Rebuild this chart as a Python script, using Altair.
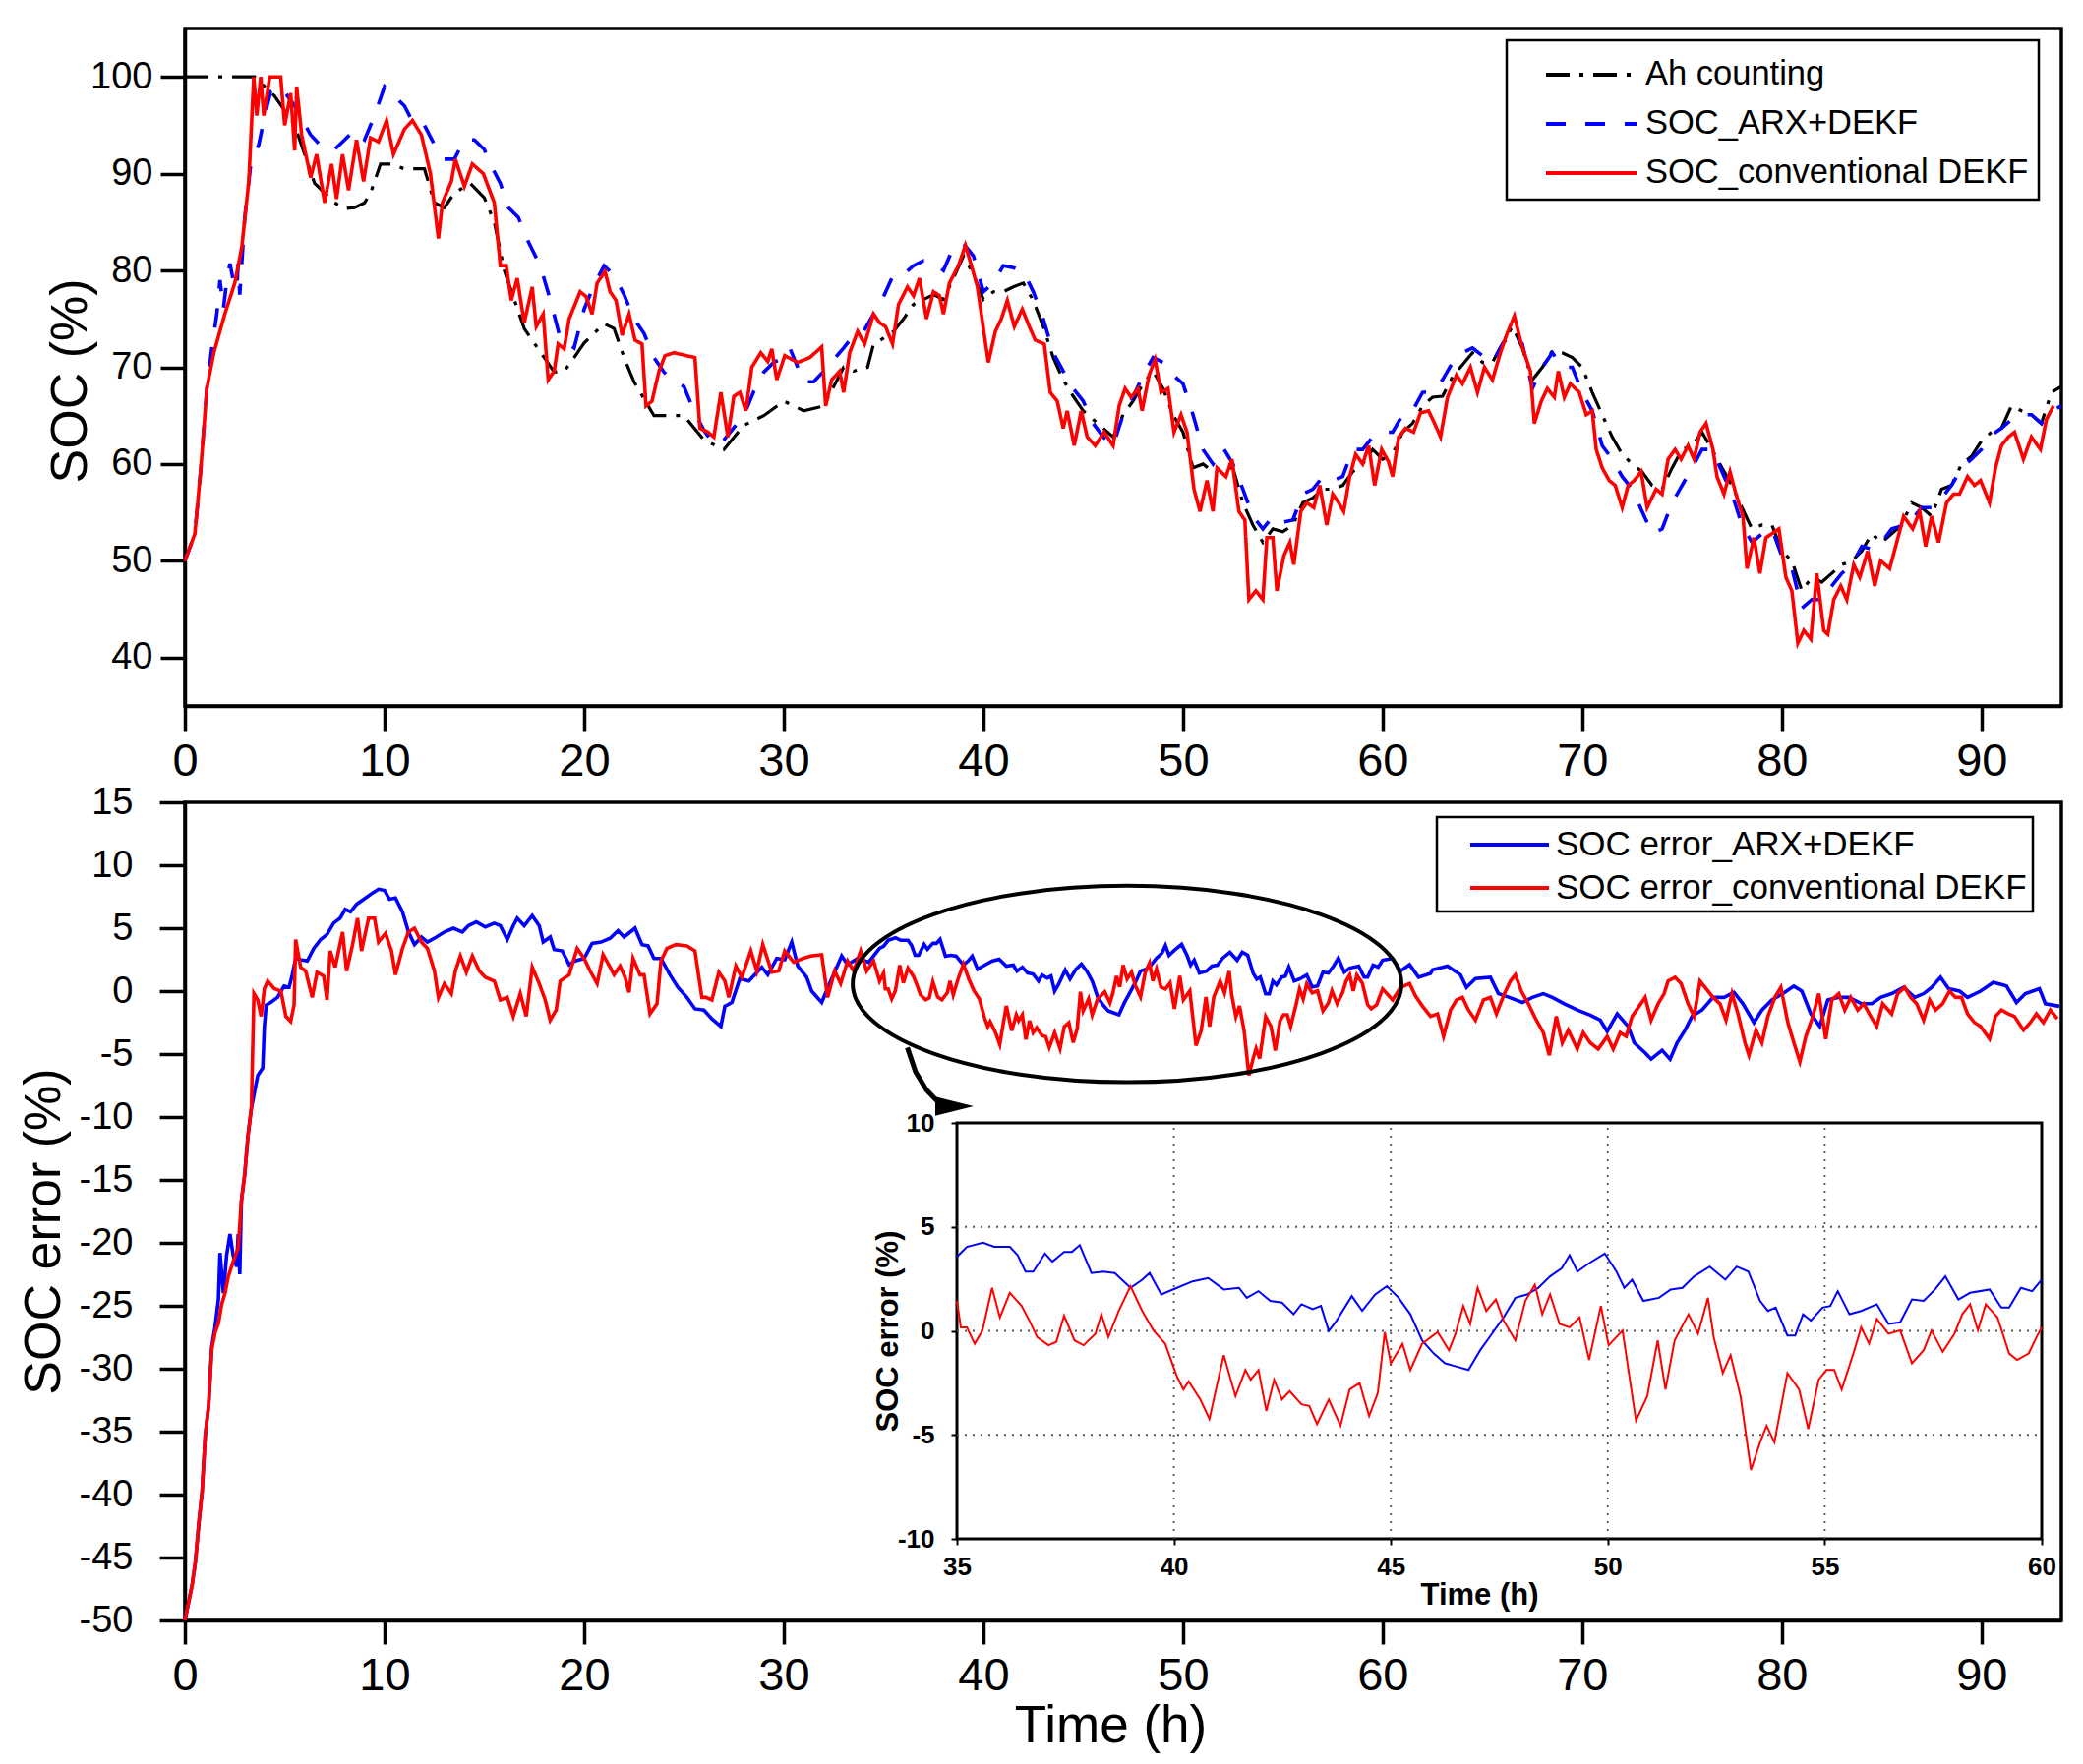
import altair as alt
import pandas as pd

# ---------------- top panel: SOC (%) ----------------
ah_pts = [(0,100),(3.5,100),(4.5,98),(5.5,95),(6.5,89),(7.5,87),(8.0,86.4),(8.5,86.5),(9.0,87),(9.3,88),(9.8,91),
          (10.3,91),(11.0,90.5),(12.0,90.5),(12.5,87),(13.0,86.5),(13.5,88),(14.3,89),(15.0,87.5),(15.5,85),(16.0,80),
          (17.0,74),(18.0,71),(18.5,69.5),(19.0,69.6),(19.5,71),(20.0,72.5),(21.0,74.5),(21.5,74),(22.0,71),(22.5,68.5),
          (23.5,65),(25.0,65),(26.0,62.5),(26.5,62),(27.0,61.5),(28.0,64),(29.0,65),(30.0,66.5),(31.0,65.5),(32.0,66),
          (32.5,68),(33.0,70),(33.5,69.6),(34.2,70),(34.5,72.4),(35.0,73),(35.5,73.7),(36.0,75),(36.5,76.5),(37.0,77),
          (37.5,77.5),(38.0,77),(38.5,79.2),(39.0,81.5),(39.5,79.6),(40.0,77),(40.5,77.8),(41.0,77.8),(41.5,78.3),
          (42.0,78.7),(42.5,76.9),(43.0,74.2),(43.5,71),(44.0,68.7),(44.5,67),(45.0,65.5),(45.5,64.6),(46.0,63.7),
          (46.5,62.8),(47.0,65.1),(47.5,66.5),(48.0,68.3),(48.5,69.6),(49.0,67.8),(49.5,65.1),(50.0,63.3),(50.5,59.6),
          (51.0,60),(51.5,59.2),(52.0,59.6),(52.5,59.6),(53.0,56),(53.5,53.7),(54.0,51.9),(54.5,53.3),(55.0,53),
          (55.5,53.7),(56.0,56),(56.5,56.5),(57.0,57.4),(57.5,57.4),(58.0,57.8),(58.5,59.2),(59.0,60),(59.5,61.5),
          (60.0,60.5),(60.5,61),(61.0,63.3),(61.5,64.2),(62.0,66),(62.5,66.9),(63.0,67),(63.5,69),(64.5,71.5),(65.0,70.5),
          (65.5,70.5),(66.0,72.4),(66.5,74.2),(67.0,72),(67.5,68.7),(68.0,70),(68.5,71.7),(69.0,71.5),(69.5,71),(70.0,70),
          (70.5,67.4),(71.0,65.1),(71.5,62.8),(72.0,61),(72.5,60),(73.0,59.2),(73.5,57.8),(74.0,57.4),(74.5,59.6),
          (75.0,61.5),(75.5,61.9),(76.0,63.3),(76.5,61.5),(77.0,59.6),(77.5,57.8),(78.0,55.5),(78.5,53.3),(79.0,53.7),
          (79.5,53.7),(80.0,51),(80.5,50),(81.0,46.9),(81.5,48.3),(82.0,47.8),(82.5,48.7),(83.0,49.6),(83.5,50),(84.0,51),
          (84.5,52.8),(85.0,51.9),(85.5,52.8),(86.0,53.7),(86.5,56),(87.0,55.5),(87.5,54.6),(88.0,57.4),(88.5,57.8),
          (89.0,60),(89.5,60.8),(90.0,62.4),(90.5,63.3),(91.0,63.7),(91.5,66),(92.0,65.5),(92.5,65.1),(93.0,64.2),
          (93.5,67.4),(94.0,68)]

arx_pts = [(0,50),(0.5,52.8),(0.8,59.6),(1.1,67.8),(1.35,72),(1.6,75.5),(1.76,79),(1.93,76),(2.1,79),(2.26,80.7),
           (2.42,79),(2.6,78.1),(2.67,80.7),(2.75,77.5),(3.0,85.5),(3.3,91),(3.5,92),(3.7,93),(4.0,96),(4.3,98.5),
           (4.8,99),(5.5,97),(6.3,94),(7.0,92.5),(7.5,92.5),(8.0,93.5),(8.5,94.5),(9.0,93.5),(9.5,96),(10.0,99),(10.5,98),
           (11.0,97),(11.5,95),(12.0,95),(12.5,93),(13.0,91.5),(13.5,91.5),(14.0,93.5),(14.5,93.5),(15.0,92.5),(15.3,91),
           (15.8,89),(16.2,86.5),(16.7,85.5),(17.2,83),(17.8,80.5),(18.3,77),(18.8,73),(19.5,72),(20.0,76),(20.5,78.5),
           (21.0,80.5),(21.5,79.5),(22.0,77.5),(22.5,75),(23.0,73.5),(23.5,71),(24.0,69.5),(24.5,68.5),(25.0,68),
           (25.5,65.5),(26.0,63.5),(26.5,62),(27.0,62.5),(28.0,65),(28.5,67.5),(29.0,69.5),(29.5,70.5),(30.0,71),
           (30.3,72),(31.0,68.5),(31.5,68.5),(32.0,69.6),(33.0,72),(33.5,73.3),(34.0,73.7),(34.5,75.5),(35.0,77.3),
           (35.5,79.6),(36.0,79.6),(36.5,80.5),(37.0,81),(37.5,80.8),(38.0,80),(38.5,82.4),(39.0,82.8),(39.5,81.5),
           (40.0,77.8),(40.5,78.7),(41.0,80.5),(41.5,80.3),(42.0,79.9),(42.5,77.8),(43.0,75),(43.5,71.5),(44.0,69.6),
           (44.5,67.8),(45.0,66.5),(45.5,64.2),(46.0,62.8),(46.5,61.9),(47.0,65.1),(47.5,66.9),(48.0,69.2),(48.5,71),
           (49.0,70.5),(49.5,69.2),(50.0,68.3),(50.5,65.1),(51.0,61.5),(51.5,60),(52.0,61.7),(52.5,60),(53.0,57.4),
           (53.5,54.6),(54.0,53.3),(54.5,54.6),(55.0,54),(55.5,54.2),(56.0,56.9),(56.5,57.4),(57.0,58.7),(57.5,58.3),
           (58.0,58.7),(58.5,61.5),(59.0,61.5),(59.5,62.8),(60.0,63.3),(60.5,63.3),(61.0,65.1),(61.5,65.5),(62.0,67.4),
           (62.5,67.5),(63.0,68.7),(63.5,70.5),(64.0,71.5),(64.5,72),(65.0,71.2),(65.5,70.5),(66.0,72.4),(66.5,73.7),
           (67.0,72.4),(67.5,67.8),(68.0,70),(68.5,71.5),(69.0,70),(69.5,70),(70.0,67.4),(70.5,65.5),(71.0,61.9),
           (71.5,60.5),(72.0,58.7),(72.5,57.4),(73.0,55.1),(73.5,52.8),(74.0,53.3),(74.5,56),(75.0,57.8),(75.5,59.6),
           (76.0,61.5),(76.5,61.5),(77.0,59.2),(77.5,56.9),(78.0,53.7),(78.5,51.9),(79.0,52.8),(79.5,53.3),(80.0,50.5),
           (80.5,49.2),(81.0,45.1),(81.5,46),(82.0,46),(82.5,47.4),(83.0,48.7),(83.5,49.6),(84.0,51.5),(84.5,51.2),
           (85.0,51.9),(85.5,53.3),(86.0,53.6),(86.5,54.2),(87.0,55.5),(87.5,55.5),(88.0,56.5),(88.5,57.8),(89.0,59.6),
           (89.5,60.5),(90.0,61.5),(90.5,63),(91.0,63.7),(91.5,64.6),(92.0,65.1),(92.5,65.1),(93.0,64.2),(93.5,65.5),
           (94.0,66)]

conv_pts = [(0,50),(0.5,52.8),(0.8,59.6),(1.1,67.8),(1.45,71.5),(2.0,75.5),(2.5,78.7),(2.85,82.4),(3.2,89.2),
            (3.45,100),(3.6,96),(3.8,100),(3.95,96),(4.25,100),(4.8,100),(5.0,95),(5.3,98.3),(5.5,92.4),(5.6,99),
            (5.85,94),(6.3,89.6),(6.6,92),(7.0,87),(7.35,91),(7.6,87.4),(7.9,92),(8.2,88.3),(8.6,93.5),(8.95,89.2),
            (9.3,93.7),(9.7,93.3),(10.1,95.5),(10.45,92),(11.0,94.6),(11.4,95.5),(11.85,94),(12.3,90),(12.7,83.3),
            (12.9,87),(13.35,89.2),(13.55,91.5),(14.0,88.7),(14.4,91),(14.95,90),(15.5,87),(15.8,80.5),(16.1,80.5),
            (16.35,76.9),(16.65,79.2),(17.0,74.6),(17.4,78.3),(17.6,74.2),(17.95,75.5),(18.2,68.7),(18.5,69.6),
            (18.7,72.4),(19.0,71.9),(19.25,75),(19.8,77.8),(20.1,77.3),(20.4,75.5),(20.65,78.7),(21.05,79.9),(21.3,77.8),
            (21.6,76.9),(21.9,73.3),(22.25,75.5),(22.55,72.8),(22.9,72.4),(23.1,66),(23.4,66.5),(23.75,69.6),(24.05,71.2),
            (24.5,71.5),(25.55,71),(25.8,63.7),(26.2,63.3),(26.5,62.8),(26.85,67.4),(27.2,62.8),(27.5,67),(27.8,67.4),
            (28.1,65.5),(28.4,70),(28.85,71.5),(29.2,70.6),(29.4,71.9),(29.65,68.7),(30.05,71.2),(30.7,70.5),(31.3,71),
            (31.9,72.1),(32.1,66),(32.4,68.7),(32.8,69.6),(33.0,67.4),(33.3,71.5),(33.7,73.7),(34.05,72.4),(34.5,75.5),
            (34.8,74.6),(35.1,74.2),(35.45,72.4),(35.75,76.5),(36.2,78.3),(36.5,77.4),(36.8,79.2),(37.15,75),(37.5,77.8),
            (37.8,77.4),(38.0,75.5),(38.3,78.7),(38.75,80.5),(39.1,82.6),(39.4,80.5),(39.7,78.3),(40.05,73.3),(40.25,70.5),
            (40.6,73.7),(40.9,75),(41.2,76.9),(41.55,74.2),(41.95,76),(42.3,74.2),(42.6,72.8),(43.05,72.4),(43.35,67.4),
            (43.7,66.5),(44.0,63.7),(44.2,65.5),(44.55,61.9),(44.9,65.5),(45.2,62.8),(45.6,61.9),(46.05,63.3),(46.5,61.9),
            (46.8,66),(47.1,67.8),(47.4,66.9),(47.75,67.8),(47.95,65.5),(48.3,69.2),(48.6,70.8),(48.9,67.4),(49.25,67.8),
            (49.55,63.3),(49.9,65.1),(50.2,63.3),(50.55,57.4),(50.85,55.1),(51.2,58.3),(51.5,55.1),(51.7,59.6),
            (52.15,58.7),(52.45,60.5),(52.8,55.1),(53.1,54.2),(53.3,46),(53.65,46.9),(54.0,46),(54.2,52.4),(54.5,52.4),
            (54.7,46.9),(55.05,50.5),(55.35,51.9),(55.55,49.6),(55.9,55.1),(56.2,56),(56.55,55.5),(56.85,57.8),(57.2,53.7),
            (57.5,56.9),(57.8,56),(58.05,55.1),(58.35,58.7),(58.65,61),(59.0,60),(59.3,61.9),(59.6,57.8),(59.95,61.5),
            (60.3,60.2),(60.5,58.7),(60.8,62.8),(61.15,63.7),(61.55,63.3),(61.9,65.3),(62.3,65.5),(62.6,64.2),(62.9,62.8),
            (63.25,66.9),(63.7,69.2),(64.0,68.3),(64.4,70),(64.75,67.4),(65.1,70),(65.5,68.7),(65.9,71.5),(66.2,73.3),
            (66.6,75.3),(66.95,72.4),(67.4,69.6),(67.6,64.2),(67.95,66.5),(68.25,67.8),(68.6,66.9),(68.8,69.6),(69.1,66.9),
            (69.4,68.3),(69.85,67.4),(70.2,65.1),(70.5,65.5),(70.7,61.5),(71.0,59.6),(71.35,58.3),(71.65,57.8),(72.0,55.5),
            (72.3,57.8),(72.6,58.3),(72.95,59.2),(73.25,55.5),(73.7,57.4),(74.0,56.9),(74.3,60.5),(74.65,61.5),
            (74.95,60.5),(75.3,61.9),(75.6,60.5),(75.9,63.3),(76.2,64.2),(76.55,61.5),(76.75,58.7),(77.1,56.9),(77.4,59.2),
            (77.7,56.9),(78.05,54.6),(78.25,49.2),(78.6,52.4),(78.9,48.7),(79.2,52.4),(79.5,52.8),(79.85,53.3),(80.2,48.3),
            (80.5,46.9),(80.8,41.5),(81.1,42.8),(81.45,41.9),(81.75,48.7),(82.1,42.8),(82.3,42.4),(82.6,46),(82.95,47.4),
            (83.25,46),(83.6,49.6),(83.9,48.3),(84.3,51),(84.65,47.4),(84.95,50),(85.4,49.2),(85.7,51.5),(86.1,54.6),
            (86.55,53.3),(86.9,55.1),(87.2,51.5),(87.5,54.6),(87.85,51.9),(88.25,56),(88.6,56.9),(88.9,56.9),(89.3,58.7),
            (89.65,57.8),(89.95,58.3),(90.4,56),(90.7,59.6),(91.0,61.9),(91.35,62.8),(91.65,63.3),(92.1,60.5),(92.5,62.8),
            (92.95,61.5),(93.25,64.6),(93.6,66)]

# ---------------- bottom panel: SOC error (%) ----------------
err_arx_pts = [(0,-50),(0.36,-47.2),(0.53,-45.3),(0.69,-42.4),(0.86,-39.8),(1.02,-35.3),(1.19,-32.9),(1.35,-28.2),
               (1.5,-26.8),(1.68,-24.5),(1.76,-20.8),(1.93,-24),(2.09,-21),(2.26,-19.3),(2.42,-21),(2.59,-21.9),
               (2.67,-19.3),(2.75,-22.5),(2.83,-16.7),(3.0,-14.5),(3.16,-11.5),(3.33,-9.3),(3.49,-8),(3.65,-6.7),
               (3.9,-6.1),(3.98,-2.8),(4.07,-1.1),(4.3,-0.9),(4.64,-0.5),(4.97,0.4),(5.22,0.3),(5.38,1.3),(5.55,2.6),
               (5.8,2.5),(6.13,2.4),(6.46,3.4),(6.8,4.1),(7.12,4.5),(7.45,5.4),(7.78,5.8),(8.03,6.5),(8.3,6.3),(8.6,6.9),
               (9.05,7.4),(9.4,7.8),(9.7,8.1),(10.0,8),(10.25,7.3),(10.55,7.4),(10.9,6.3),(11.2,4.7),(11.5,3.7),
               (11.85,4.3),(12.15,3.9),(12.6,4.3),(13.0,4.7),(13.45,5),(13.9,4.7),(14.2,5.2),(14.6,5.5),(15.05,5.1),
               (15.5,5.4),(15.8,5.2),(16.15,4.1),(16.45,5.2),(16.65,5.8),(17.0,5.2),(17.4,6),(17.75,5.2),(17.95,3.9),
               (18.3,4.3),(18.5,3.3),(18.9,3.2),(19.25,2.1),(19.55,2.4),(20.0,2.6),(20.4,3.8),(20.85,3.9),(21.3,4.2),
               (21.7,4.8),(22.0,4.3),(22.55,5),(22.9,3.7),(23.2,3.6),(23.5,2.6),(23.85,2.6),(24.3,1.3),(24.7,0.3),
               (25.15,-0.5),(25.55,-1.4),(26.0,-1.5),(26.4,-2.2),(26.85,-2.8),(27.05,-1.2),(27.4,-0.9),(27.8,1),
               (28.25,0.8),(28.55,1.3),(28.9,1.9),(29.2,1.3),(29.65,2.6),(30.05,2.5),(30.4,3.9),(30.7,2.0),(31.15,1.1),
               (31.4,0),(31.9,-0.9),(32.35,0.8),(32.9,2.8),(33.2,2.1),(33.7,2.6),(34.25,2.3),(34.8,3.4),
               (35,3.56),(35.23,4.04),(35.6,4.24),(35.86,4.04),(36.22,4.04),(36.4,3.64),(36.58,2.85),(36.76,2.85),
               (37.03,3.72),(37.2,3.33),(37.47,3.8),(37.65,3.8),(37.83,4.12),(38.1,2.78),(38.37,2.85),(38.64,2.78),
               (39.0,2.07),(39.27,2.46),(39.44,2.78),(39.71,1.75),(40.07,2.07),(40.43,2.38),(40.79,2.54),(41.15,1.99),
               (41.5,2.07),(41.68,1.59),(41.95,1.91),(42.22,1.44),(42.49,1.36),(42.76,0.8),(42.94,1.28),(43.2,1.04),
               (43.39,1.2),(43.57,0.0),(43.75,0.49),(44.1,1.67),(44.34,0.96),(44.64,1.75),(44.91,2.15),(45.18,1.59),
               (45.45,0.8),(45.72,-0.46),(45.99,-1.09),(46.25,-1.56),(46.52,-1.72),(46.79,-1.88),(47.06,-0.93),
               (47.33,-0.14),(47.6,0.65),(47.87,1.59),(48.14,1.75),(48.4,2.07),(48.67,2.62),(48.94,3.01),(49.12,3.64),
               (49.3,2.85),(49.57,3.25),(49.93,3.72),(50.2,2.85),(50.38,2.07),(50.56,2.46),(50.82,1.44),(51.18,1.59),
               (51.45,1.99),(51.72,2.07),(51.99,2.62),(52.35,3.09),(52.71,2.46),(52.97,3.09),(53.24,2.85),(53.51,1.44),
               (53.69,0.96),(53.87,1.12),(54.14,-0.22),(54.32,-0.22),(54.5,0.8),(54.68,0.49),(54.95,1.12),(55.13,1.2),
               (55.3,1.91),(55.57,0.8),(55.84,0.96),(56.2,1.28),(56.47,0.33),(56.74,0.41),(57.01,1.51),(57.28,1.44),
               (57.54,1.99),(57.78,2.62),(58.08,1.51),(58.35,1.83),(58.8,1.99),(59.07,1.12),(59.25,1.12),(59.52,2.07),
               (59.78,1.91),(60.0,2.46),
               (60.5,2.6),(60.9,1.6),(61.35,2.1),(61.8,1.1),(62.4,1.4),(62.5,1.7),(63.25,2),(63.9,1.3),(64.2,0.3),
               (64.65,1),(65.4,1.1),(65.8,-0.2),(66.35,-0.5),(67.0,-0.9),(67.5,-0.5),(68.05,-0.2),(68.5,-0.5),(69.1,-1),
               (69.75,-1.5),(70.4,-1.9),(70.9,-2.3),(71.25,-3.2),(71.75,-1.8),(72.3,-2.8),(72.6,-4.1),(73.15,-4.9),
               (73.45,-5.4),(74.0,-4.7),(74.4,-5.4),(74.75,-4.1),(75.15,-3.1),(75.5,-2),(76.0,-1.5),(76.55,-0.5),
               (77.1,-0.5),(77.6,-0.1),(78.05,-1),(78.6,-2.5),(79.0,-1.5),(79.5,-0.7),(80.05,-0.2),(80.6,0.4),(81.0,0),
               (81.45,-1.8),(81.9,-2.8),(82.3,-0.7),(82.8,-0.5),(83.35,-0.5),(84.0,-1),(84.5,-1),(84.95,-0.5),
               (85.5,-0.2),(86.1,0.3),(86.65,-0.5),(87.1,-0.2),(87.5,0.3),(87.95,1.1),(88.35,0.2),(88.9,0),(89.3,-0.5),
               (89.95,0),(90.6,0.7),(91.25,0.4),(91.75,-0.9),(92.2,-0.2),(92.9,0.2),(93.2,-1),(93.9,-1.2)]

err_conv_pts = [(0,-50),(0.36,-47.2),(0.53,-45.3),(0.69,-42.4),(0.86,-39.8),(1.02,-35.3),(1.19,-32.9),(1.35,-28.4),
                (1.52,-27.1),(1.68,-26.4),(1.84,-24.9),(2.01,-24),(2.17,-22.7),(2.42,-21.5),(2.67,-20.4),(2.83,-16.7),
                (3.0,-14.5),(3.16,-11.5),(3.33,-9.3),(3.46,-0.2),(3.65,-0.7),(3.82,-2),(3.98,0.2),(4.15,0.8),(4.48,0.2),
                (4.81,0),(5.06,-2),(5.3,-2.4),(5.47,-1.1),(5.55,4.1),(5.8,1.9),(6.05,1.6),(6.38,-0.5),(6.62,1.5),
                (6.95,1.2),(7.12,-0.7),(7.28,3.2),(7.53,1.9),(7.9,4.7),(8.1,1.6),(8.4,3.7),(8.65,5.8),(8.85,3.2),(9.2,5.8),
                (9.5,5.8),(9.7,3.9),(10.05,4.6),(10.35,3.2),(10.55,1.3),(10.9,3.4),(11.2,4.7),(11.5,5),(11.85,3.9),
                (12.15,3.4),(12.5,1.6),(12.7,-0.5),(13.0,0.6),(13.35,-0.2),(13.55,1.6),(13.8,2.8),(14.1,1.5),(14.4,2.8),
                (14.75,1.6),(15.05,1.1),(15.5,0.8),(15.8,-0.7),(16.15,-0.5),(16.45,-2),(16.8,-0.2),(17.1,-2),(17.4,1.9),
                (17.75,0.6),(18.05,-0.7),(18.3,-2.3),(18.6,-1.5),(18.8,0.8),(19.25,1.3),(19.65,3.4),(20.0,2.6),
                (20.3,1.6),(20.65,0.6),(20.95,2.9),(21.3,1.9),(21.5,1.3),(21.8,2),(22.05,1.1),(22.25,-0.1),(22.45,2.6),
                (22.8,1.3),(23.0,1.3),(23.3,-1.8),(23.65,-1),(23.85,2.4),(24.15,3.4),(24.6,3.7),(25.15,3.6),(25.55,3.2),
                (25.9,-0.5),(26.1,-0.5),(26.4,-0.7),(26.75,1.5),(27.05,0.8),(27.25,-0.5),(27.6,2),(27.9,1.1),(28.35,3.2),
                (28.65,1.6),(28.95,3.7),(29.4,1.5),(29.75,1.6),(30.05,3.2),(30.5,2.3),(30.95,2.6),(31.35,2.8),(31.9,2.9),
                (32.2,-0.5),(32.55,1.6),(32.85,0.6),(33.2,2.4),(33.5,1.6),(33.85,3.2),(34.15,1.6),(34.5,2.4),(34.8,0.8),
                (35,1.44),(35.09,0.17),(35.23,0.17),(35.41,-0.62),(35.59,0.02),(35.81,2.07),(35.99,0.65),(36.22,1.83),
                (36.49,1.2),(36.67,0.49),(36.85,-0.3),(37.11,-0.69),(37.29,-0.53),(37.47,0.73),(37.71,-0.46),
                (37.92,-0.69),(38.19,-0.14),(38.33,0.8),(38.49,-0.3),(38.73,0.96),(39.0,2.15),(39.27,0.96),(39.53,0.02),
                (39.8,-0.62),(40.07,-2.19),(40.22,-2.82),(40.34,-2.43),(40.61,-3.3),(40.82,-4.24),(40.97,-2.82),
                (41.15,-1.17),(41.42,-3.14),(41.65,-1.88),(41.77,-2.35),(41.95,-1.88),(42.13,-3.85),(42.31,-2.35),
                (42.49,-3.3),(42.67,-2.9),(42.94,-3.53),(43.12,-3.61),(43.3,-4.48),(43.57,-3.3),(43.84,-4.56),
                (44.05,-2.82),(44.28,-2.51),(44.5,-4.09),(44.7,-2.98),(44.86,-0.06),(45.0,-1.56),(45.27,-0.62),
                (45.45,-1.88),(45.72,-0.62),(46.08,-0.06),(46.34,-0.93),(46.49,-0.14),(46.67,1.2),(46.83,0.33),
                (47.0,2.07),(47.2,0.96),(47.42,1.51),(47.6,0.49),(47.87,-0.46),(48.1,1.44),(48.32,2.22),(48.49,0.8),
                (48.67,1.75),(48.89,0.33),(49.12,0.17),(49.35,0.65),(49.57,-1.4),(49.84,1.2),(50.02,-0.69),(50.34,0.02),
                (50.65,-4.32),(50.91,-3.14),(51.15,-0.46),(51.33,-2.82),(51.54,-0.46),(51.86,0.8),(52.08,-0.14),
                (52.31,1.59),(52.44,-0.3),(52.65,-2.03),(52.83,-1.17),(53.06,-3.14),(53.3,-6.69),(53.51,-5.36),
                (53.66,-4.56),(53.84,-5.36),(54.14,-2.03),(54.41,-2.82),(54.62,-4.72),(54.86,-2.35),(55.04,-1.88),
                (55.22,-1.88),(55.39,-2.82),(55.66,-1.09),(55.84,0.17),(56.02,-0.62),(56.2,0.57),(56.47,-0.14),
                (56.74,0.02),(57.01,-1.56),(57.28,-0.93),(57.46,0.02),(57.72,-1.01),(57.99,-0.14),(58.17,0.8),
                (58.35,1.28),(58.53,0.02),(58.71,1.28),(58.98,0.65),(59.25,-1.09),(59.43,-1.4),(59.7,-1.09),
                (59.88,-0.3),(60.0,0.17),
                (60.5,-0.7),(60.9,0.3),(61.35,0.6),(61.65,-0.4),(62.0,-1.2),(62.4,-2),(62.75,-1.8),(63.05,-3.6),
                (63.4,-1.5),(63.7,-0.7),(64.0,-0.5),(64.3,-1.5),(64.65,-2.3),(65.05,-0.7),(65.4,-0.5),(65.7,-1.8),
                (66.1,-0.2),(66.4,0.8),(66.65,1.3),(66.95,0),(67.3,-1),(67.6,-2),(68.05,-3.3),(68.35,-5.1),(68.7,-2),
                (69.0,-4.1),(69.3,-3.1),(69.75,-4.6),(70.05,-3.3),(70.4,-4.1),(70.8,-4.6),(71.25,-3.6),(71.55,-4.6),
                (71.9,-3.3),(72.2,-3.6),(72.5,-2),(72.85,-1.2),(73.15,-0.5),(73.45,-2.3),(73.8,-1),(74.1,-0.2),
                (74.3,0.8),(74.65,1.1),(74.95,0.6),(75.3,-1),(75.6,-2),(75.9,0.8),(76.25,0.1),(76.55,-0.5),(76.9,-1),
                (77.2,-2.3),(77.5,-0.2),(77.8,-1.8),(78.15,-4.1),(78.35,-5.1),(78.7,-3.1),(79.0,-4.1),(79.3,-2),
                (79.65,-0.5),(79.95,0.3),(80.3,-2.5),(80.6,-4.1),(80.9,-5.6),(81.2,-3.6),(81.55,-2),(81.85,-0.2),
                (82.2,-3.8),(82.5,-0.7),(82.85,-0.2),(83.15,-1.5),(83.45,-0.5),(83.8,-1.5),(84.1,-1),(84.45,-2),
                (84.75,-2.8),(85.05,-1),(85.5,-1.8),(85.8,-0.2),(86.15,0.3),(86.45,-0.5),(86.75,-1),(87.1,-2.3),
                (87.4,-0.7),(87.7,-1.5),(88.05,-1),(88.4,0),(88.7,-0.5),(89.0,-0.5),(89.3,-1.8),(89.65,-2.5),
                (89.95,-2.8),(90.4,-3.8),(90.7,-2),(91.0,-1.5),(91.35,-1.8),(91.65,-2),(92.1,-3.1),(92.45,-2.5),
                (92.75,-1.8),(93.1,-2.5),(93.45,-1.5),(93.8,-2.2)]

top_names = ["Ah counting", "SOC_ARX+DEKF", "SOC_conventional DEKF"]
err_names = ["SOC error_ARX+DEKF", "SOC error_conventional DEKF"]
x_ticks = [0, 10, 20, 30, 40, 50, 60, 70, 80, 90]
top_y_ticks = [40, 50, 60, 70, 80, 90, 100]
err_y_ticks = [-50, -45, -40, -35, -30, -25, -20, -15, -10, -5, 0, 5, 10, 15]
inset_x_ticks = [35, 40, 45, 50, 55, 60]
inset_y_ticks = [-10, -5, 0, 5, 10]
inset_grid_x = [40, 45, 50, 55]
inset_grid_y = [-5, 0, 5]
inset_window = [35, 60, -10, 10]
ellipse_center = [47.2, 0.57]
arrow_t = [36.19, 36.6, 37.15, 37.7]
arrow_v = [-4.48, -6.4, -7.85, -8.75]
arrow_head = [38.55, -9.15]

FONT = "Liberation Sans"
W, H_TOP, H_BOT = 1908, 689, 832
PLAIN = "'' + datum.value"   # plain hyphen minus sign, as in the original


def sdf(pts, name):
    return pd.DataFrame({"t": [p[0] for p in pts], "v": [p[1] for p in pts], "series": name})


# ---------------- top chart ----------------
top_x = alt.X("t:Q", scale=alt.Scale(domain=[0, 94], nice=False, zero=False),
              axis=alt.Axis(values=x_ticks, title=None, grid=False, labelFlush=False, labelOverlap=False,
                            labelFont=FONT, labelFontSize=47, labelColor="black", labelBaseline="middle",
                            labelPadding=31, tickSize=25, tickWidth=3.5, tickColor="black",
                            domainColor="black", domainWidth=3.5))
top_y = alt.Y("v:Q", scale=alt.Scale(domain=[35, 105], nice=False, zero=False),
              axis=alt.Axis(values=top_y_ticks, title="SOC (%)", grid=False, labelOverlap=False, labelExpr=PLAIN,
                            labelFont=FONT, labelFontSize=38, labelColor="black", labelPadding=8,
                            tickSize=25, tickWidth=3.5, tickColor="black", domainColor="black", domainWidth=3.5,
                            titleFont=FONT, titleFontSize=52, titleFontWeight="normal", titleColor="black",
                            titleAngle=270, titleAlign="center", titleBaseline="middle", titleX=-117, titleY=358))
top_legend = alt.Legend(title=None, orient="none", legendX=1344, legendY=12, symbolType="M-2,0H2",
                        symbolSize=2116, symbolStrokeWidth=4, symbolOffset=51, labelOffset=30,
                        labelFont=FONT, labelFontSize=34.5, labelColor="black", labelLimit=1000,
                        padding=10, rowPadding=8, strokeColor="black", fillColor="white")
top_color = alt.Color("series:N", scale=alt.Scale(domain=top_names, range=["#000000", "#0000ff", "#ff0000"]),
                      legend=top_legend)
top_dash = alt.StrokeDash("series:N", scale=alt.Scale(domain=top_names,
                                                      range=[[24, 10, 4, 10], [20, 20], [1, 0]]),
                          legend=top_legend)

top_layers = []
for pts, name, w in [(ah_pts, top_names[0], 3.2), (arx_pts, top_names[1], 3.6), (conv_pts, top_names[2], 3.6)]:
    top_layers.append(alt.Chart(sdf(pts, name)).mark_line(strokeWidth=w)
                      .encode(x=top_x, y=top_y, color=top_color, strokeDash=top_dash))
top = alt.layer(*top_layers).properties(width=W, height=H_TOP)

# ---------------- bottom chart ----------------
bot_x = alt.X("t:Q", scale=alt.Scale(domain=[0, 94], nice=False, zero=False),
              axis=alt.Axis(values=x_ticks, title="Time (h)", grid=False, labelFlush=False, labelOverlap=False,
                            labelFont=FONT, labelFontSize=47, labelColor="black", labelBaseline="middle",
                            labelPadding=32, tickSize=24, tickWidth=3.5, tickColor="black",
                            domainColor="black", domainWidth=3.5,
                            titleFont=FONT, titleFontSize=53, titleFontWeight="normal", titleColor="black",
                            titleAlign="center", titleBaseline="middle", titleX=941, titleY=107))
bot_y = alt.Y("v:Q", scale=alt.Scale(domain=[-50, 15], nice=False, zero=False),
              axis=alt.Axis(values=err_y_ticks, title="SOC error (%)", grid=False, labelOverlap=False,
                            labelExpr=PLAIN,
                            labelFont=FONT, labelFontSize=38, labelColor="black", labelPadding=27,
                            tickSize=26, tickWidth=3.5, tickColor="black", domainColor="black", domainWidth=3.5,
                            titleFont=FONT, titleFontSize=52, titleFontWeight="normal", titleColor="black",
                            titleAngle=270, titleAlign="center", titleBaseline="middle", titleX=-144, titleY=436))
err_legend = alt.Legend(title=None, orient="none", legendX=1273, legendY=15, symbolType="M-2,0H2",
                        symbolSize=1600, symbolStrokeWidth=4, symbolOffset=46, labelOffset=25,
                        labelFont=FONT, labelFontSize=35, labelColor="black", labelLimit=1000,
                        padding=6, rowPadding=4, strokeColor="black", fillColor="white")
err_color = alt.Color("series:N", scale=alt.Scale(domain=err_names, range=["#0000ff", "#ff0000"]),
                      legend=err_legend)

err_arx_df = sdf(err_arx_pts, err_names[0])
err_conv_df = sdf(err_conv_pts, err_names[1])

main_err = [alt.Chart(df).mark_line(strokeWidth=3.6).encode(x=bot_x, y=bot_y, color=err_color)
            for df in (err_arx_df, err_conv_df)]
ellipse = alt.Chart(pd.DataFrame({"t": [ellipse_center[0]], "v": [ellipse_center[1]]})).mark_point(
    shape="M -1 0 A 1 0.358 0 1 1 1 0 A 1 0.358 0 1 1 -1 0 Z", size=4 * 279 * 279,
    filled=False, color="black", strokeWidth=4, opacity=1).encode(x=bot_x, y=bot_y)
arrow = alt.Chart(pd.DataFrame({"t": arrow_t, "v": arrow_v})).mark_line(
    color="black", strokeWidth=5).encode(x=bot_x, y=bot_y)
arrowhead = alt.Chart(pd.DataFrame({"t": [arrow_head[0]], "v": [arrow_head[1]]})).mark_point(
    shape="M -1 -0.5 L 1 0 L -1 0.5 Z", size=1521, filled=True, color="black", opacity=1
).encode(x=bot_x, y=bot_y)
main_sub = alt.layer(*main_err, ellipse, arrow, arrowhead)

# inset (zoom of 35-60 h), drawn with its own scales inside the lower panel
in_left, in_right, in_top, in_bottom = 785, 1888, 326, 749
in_xscale = alt.Scale(domain=[inset_window[0], inset_window[1]], range=[in_left, in_right], nice=False, zero=False)
in_yscale = alt.Scale(domain=[inset_window[2], inset_window[3]], range=[in_bottom, in_top], nice=False, zero=False)
in_xaxis = alt.Axis(orient="bottom", offset=in_bottom - H_BOT, values=inset_x_ticks, title="Time (h)",
                    grid=False, domain=False, ticks=True, tickSize=6, tickWidth=2, tickColor="black",
                    labelFlush=False, labelOverlap=False,
                    labelFont=FONT, labelFontSize=26, labelFontWeight="bold", labelColor="black",
                    labelBaseline="middle", labelPadding=22,
                    titleFont=FONT, titleFontSize=31, titleFontWeight="bold", titleColor="black",
                    titleAlign="center", titleBaseline="middle", titleX=1316, titleY=57)
in_yaxis = alt.Axis(orient="left", offset=-in_left, values=inset_y_ticks, title="SOC error (%)",
                    grid=False, domain=False, ticks=True, tickSize=6, tickWidth=2, tickColor="black",
                    labelOverlap=False, labelExpr=PLAIN,
                    labelFont=FONT, labelFontSize=26, labelFontWeight="bold", labelColor="black",
                    labelPadding=17,
                    titleFont=FONT, titleFontSize=31, titleFontWeight="bold", titleColor="black",
                    titleAngle=270, titleAlign="center", titleBaseline="middle", titleX=-70)


def ix(f):
    return alt.X(f, type="quantitative", scale=in_xscale, axis=in_xaxis)


def iy(f):
    return alt.Y(f, type="quantitative", scale=in_yscale, axis=in_yaxis)


frame_df = pd.DataFrame({"x0": [inset_window[0]], "x1": [inset_window[1]],
                         "y0": [inset_window[2]], "y1": [inset_window[3]]})
inset_frame = alt.Chart(frame_df).mark_rect(fill="white", stroke="black", strokeWidth=3).encode(
    x=ix("x0"), x2="x1", y=iy("y0"), y2="y1")
gx_df = pd.DataFrame({"g": inset_grid_x, "lo": inset_window[2], "hi": inset_window[3]})
gy_df = pd.DataFrame({"g": inset_grid_y, "lo": inset_window[0], "hi": inset_window[1]})
grid_v = alt.Chart(gx_df).mark_rule(color="#555555", strokeWidth=1.8, strokeDash=[2, 6]).encode(
    x=ix("g"), y=iy("lo"), y2="hi")
grid_h = alt.Chart(gy_df).mark_rule(color="#555555", strokeWidth=1.8, strokeDash=[2, 6]).encode(
    y=iy("g"), x=ix("lo"), x2="hi")


def in_window(df):
    return df[(df["t"] >= inset_window[0]) & (df["t"] <= inset_window[1])]


inset_blue = alt.Chart(in_window(err_arx_df)).mark_line(color="#0000ff", strokeWidth=2).encode(
    x=ix("t"), y=iy("v"))
inset_red = alt.Chart(in_window(err_conv_df)).mark_line(color="#ff0000", strokeWidth=2).encode(
    x=ix("t"), y=iy("v"))
inset_sub = alt.layer(inset_frame, grid_v, grid_h, inset_blue, inset_red)

bottom = alt.layer(main_sub, inset_sub).resolve_scale(x="independent", y="independent").properties(
    width=W, height=H_BOT)

chart = alt.vconcat(top, bottom, spacing=98, bounds="flush").resolve_scale(
    x="independent", y="independent", color="independent", strokeDash="independent"
).properties(
    padding={"left": 8, "top": 19, "right": 0, "bottom": 0}
).configure_view(stroke="black", strokeWidth=3.5).configure_legend(strokeWidth=2.5)

chart.save("out.html", embed_options={"renderer": "svg", "actions": False})
